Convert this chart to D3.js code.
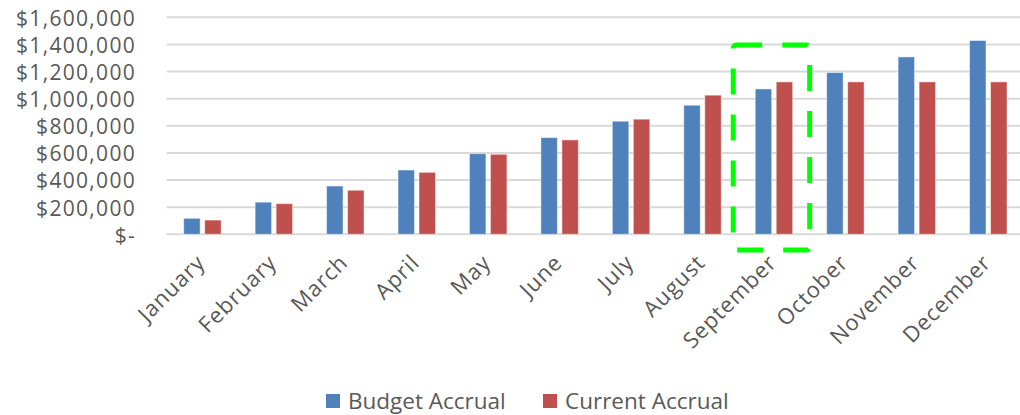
<!DOCTYPE html>
<meta charset="utf-8">
<style>
body { margin: 0; background: #fff; }
text { font-family: "Open Sans", sans-serif; fill: #595959; }
.grid line { stroke: #d9d9d9; stroke-width: 2px; }
</style>
<body>
<svg id="chart" width="1020" height="415"></svg>
<script src="https://cdn.jsdelivr.net/npm/d3@7"></script>
<script>
var months = ["January","February","March","April","May","June","July","August","September","October","November","December"];
var budget = [118000,237000,356000,474000,595000,713000,834000,952000,1072000,1193000,1308000,1429000];
var current = [105000,226000,325000,457000,590000,696000,849000,1026000,1124000,1124000,1124000,1124000];
var yTicks = [0,200000,400000,600000,800000,1000000,1200000,1400000,1600000];
var seriesNames = ["Budget Accrual","Current Accrual"];
var colors = ["#4f81bd","#c0504d"];

var svg = d3.select("#chart");
var plotL = 166.7, plotR = 1024, plotT = 17.3, plotB = 234.3;

var x = d3.scaleBand().domain(months).range([plotL, plotR]);
var y = d3.scaleLinear().domain([0, 1600000]).range([plotB, plotT]);

// gridlines
svg.append("g").attr("class", "grid")
  .selectAll("line").data(yTicks).enter().append("line")
  .attr("x1", plotL).attr("x2", plotR)
  .attr("y1", function(d) { return y(d); })
  .attr("y2", function(d) { return y(d); });

// y labels
svg.append("g").selectAll("text").data(yTicks).enter().append("text")
  .attr("x", 136).attr("y", function(d) { return y(d) + 1; })
  .attr("dy", "0.35em").attr("text-anchor", "end")
  .style("font-size", "21px").style("letter-spacing", "1.3px")
  .text(function(d) { return d === 0 ? "$-" : "$" + d3.format(",")(d); });

// bars
var barW = 16.5, gap = 4.5;
var rows = months.map(function(m, i) { return {m: m, v: [budget[i], current[i]]}; });
var groups = svg.append("g").selectAll("g").data(rows).enter().append("g");
[0, 1].forEach(function(s) {
  groups.append("rect")
    .attr("x", function(d) {
      var c = x(d.m) + x.bandwidth() / 2;
      return s === 0 ? c - gap / 2 - barW : c + gap / 2;
    })
    .attr("width", barW)
    .attr("y", function(d) { return y(d.v[s]); })
    .attr("height", function(d) { return plotB - y(d.v[s]); })
    .attr("fill", colors[s])
    .attr("stroke", "#fff").attr("stroke-opacity", 0.5).attr("stroke-width", 1);
});

// category labels
svg.append("g").selectAll("text").data(months).enter().append("text")
  .attr("transform", function(d) {
    return "translate(" + (x(d) + x.bandwidth() / 2 + 4) + ",264) rotate(-45)";
  })
  .attr("text-anchor", "end")
  .style("font-size", "22px").style("letter-spacing", "0.9px")
  .text(function(d) { return d; });

// highlight box around September
var sx = x("September");
svg.append("rect")
  .attr("x", sx - 5).attr("y", y(1395000))
  .attr("width", x.bandwidth() + 5).attr("height", 250 - y(1395000))
  .attr("rx", 3)
  .attr("fill", "none").attr("stroke", "#00ff00")
  .attr("stroke-width", 5).attr("stroke-dasharray", "26,20");

// legend
var legX = [326, 543];
var leg = svg.append("g").selectAll("g").data(seriesNames).enter().append("g")
  .attr("transform", function(d, i) { return "translate(" + legX[i] + ",394)"; });
leg.append("rect").attr("width", 14).attr("height", 14)
  .attr("fill", function(d, i) { return colors[i]; });
leg.append("text").attr("x", 22).attr("y", 7).attr("dy", "0.36em")
  .style("font-size", "22.5px")
  .text(function(d) { return d; });
</script>
</body>
